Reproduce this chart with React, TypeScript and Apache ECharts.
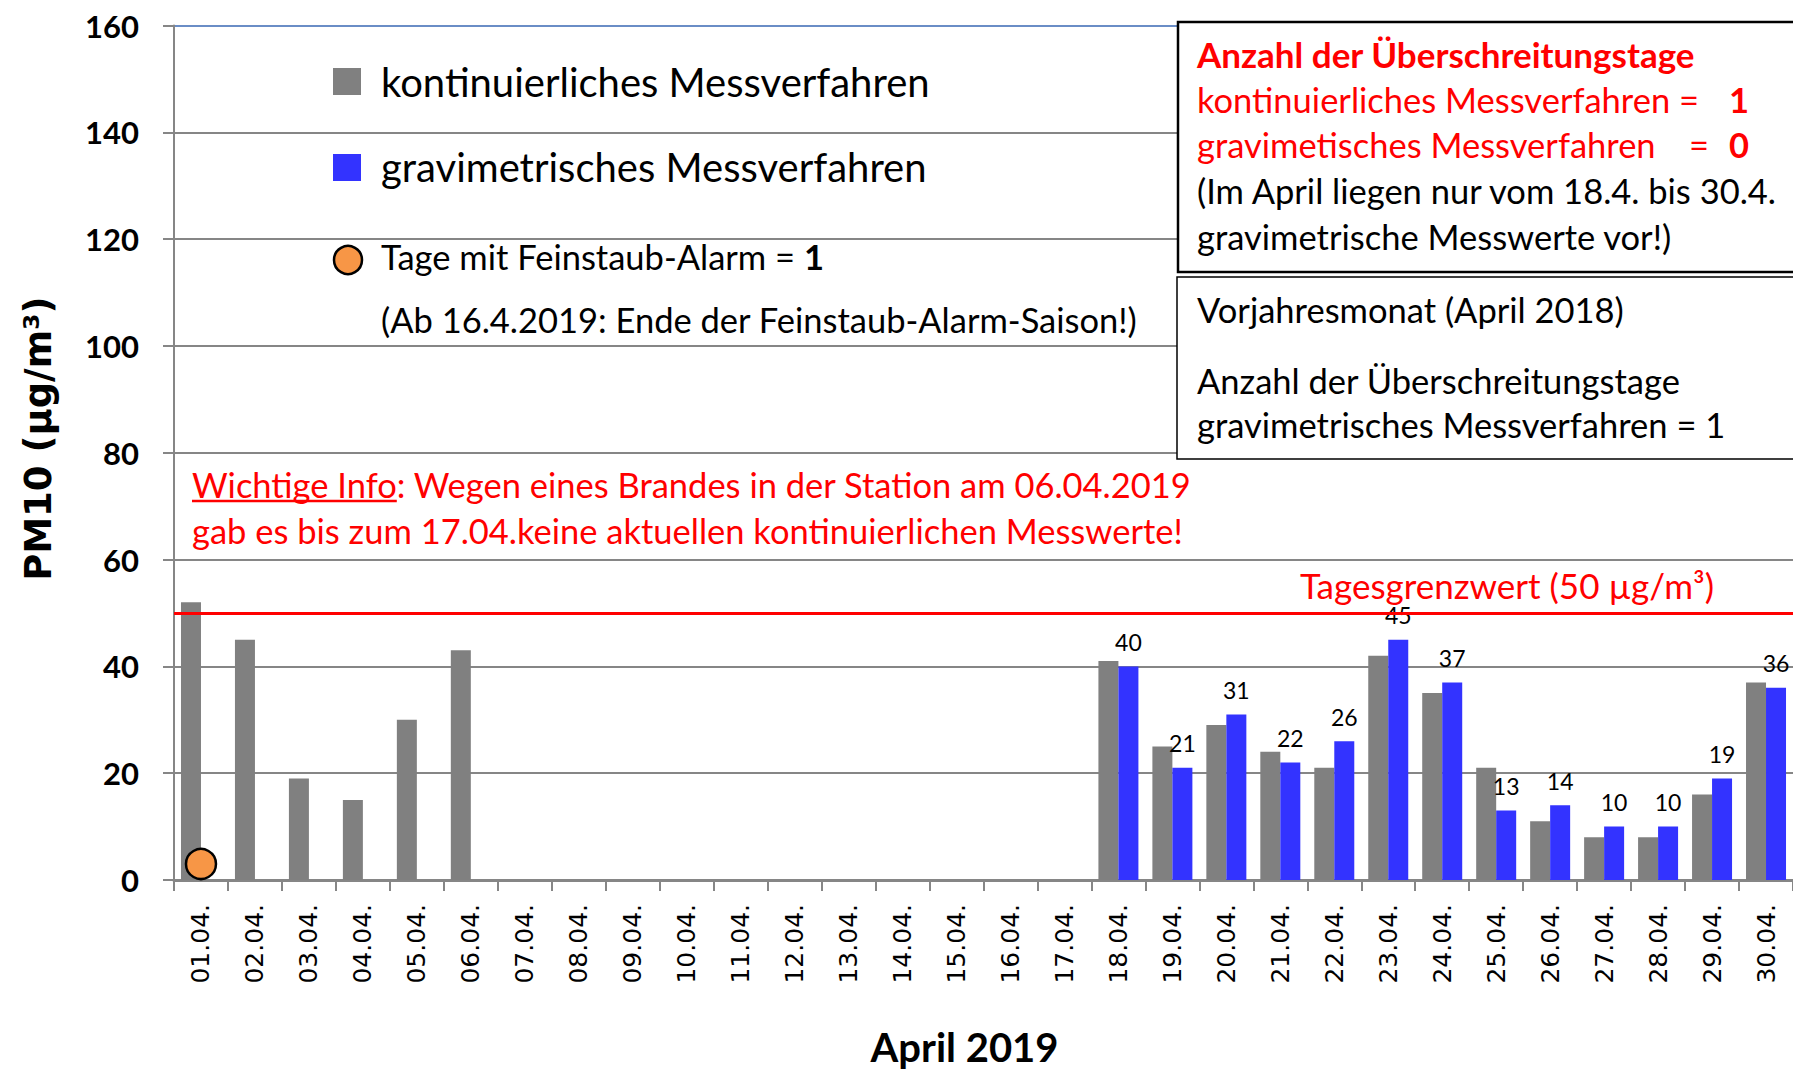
import React, { useEffect, useRef } from 'react';
import * as echarts from 'echarts';

// ---------- data ----------
const days: string[] = [
  '01.04.', '02.04.', '03.04.', '04.04.', '05.04.', '06.04.', '07.04.', '08.04.', '09.04.', '10.04.',
  '11.04.', '12.04.', '13.04.', '14.04.', '15.04.', '16.04.', '17.04.', '18.04.', '19.04.', '20.04.',
  '21.04.', '22.04.', '23.04.', '24.04.', '25.04.', '26.04.', '27.04.', '28.04.', '29.04.', '30.04.',
];
const kontinuierlich: (number | null)[] = [
  52, 45, 19, 15, 30, 43, null, null, null, null,
  null, null, null, null, null, null, null, 41, 25, 29,
  24, 21, 42, 35, 21, 11, 8, 8, 16, 37,
];
const gravimetrisch: (number | null)[] = [
  null, null, null, null, null, null, null, null, null, null,
  null, null, null, null, null, null, null, 40, 21, 31,
  22, 26, 45, 37, 13, 14, 10, 10, 19, 36,
];
const feinstaubAlarm: (number | null)[] = [
  3, null, null, null, null, null, null, null, null, null,
  null, null, null, null, null, null, null, null, null, null,
  null, null, null, null, null, null, null, null, null, null,
];
const yMin = 0;
const yMax = 160;
const yInterval = 20;
const tagesgrenzwert = 50;
const seriesNames = ['kontinuierliches Messverfahren', 'gravimetrisches Messverfahren', 'Tage mit Feinstaub-Alarm'];

export default function App() {
  const ref = useRef<HTMLDivElement>(null);

  useEffect(() => {
    const el = ref.current!;
    const chart = echarts.init(el, null, { renderer: 'svg' });

    const ctx = document.createElement('canvas').getContext('2d')!;
    const measure = (text: string, size: number, weight = 'normal', family = 'Lato') => {
      ctx.font = `${weight} ${size}px ${family}`;
      return ctx.measureText(text).width;
    };
    const fit = (text: string, target: number, weight = 'normal', family = 'Lato') =>
      Math.round((100 * target) / measure(text, 100, weight, family) * 2) / 2;

    const RED = '#FF0000';
    const GRID = '#868686';

    const T = (x: number, y: number, text: string, size: number, extra: any = {}) => ({
      type: 'text',
      x,
      y,
      silent: true,
      z: 100,
      style: {
        text,
        fontFamily: 'Lato',
        fontSize: size,
        fill: '#000',
        align: 'left',
        verticalAlign: 'middle',
        ...extra,
      },
    });

    // font sizes fitted to the widths seen in the reference
    const fLegend = fit(seriesNames[0], 550);
    const fBody = fit('Wichtige Info: Wegen eines Brandes in der Station am 06.04.2019', 997);
    const fBox = fit('(Im April liegen nur vom 18.4. bis 30.4.', 585);
    const fBoxBold = fit('Anzahl der Überschreitungstage', 497, 'bold');
    const fGrenz = fit('Tagesgrenzwert (50 µg/m³)', 414);
    const fXTitle = fit('April 2019', 189, 'bold');
    const wInfo = measure('Wichtige Info', fBody);

    const splitColors = ['#868686', '#868686', '#868686', '#868686', '#868686', '#868686', '#868686', '#868686', '#6A8DC6'];

    const graphic: any[] = [
      // legend
      { type: 'rect', z: 100, silent: true, shape: { x: 333, y: 68, width: 28, height: 27 }, style: { fill: '#808080' } },
      T(381, 82, seriesNames[0], fLegend),
      { type: 'rect', z: 100, silent: true, shape: { x: 333, y: 154, width: 28, height: 27 }, style: { fill: '#3333FF' } },
      T(381, 167, seriesNames[1], fLegend),
      { type: 'circle', z: 100, silent: true, shape: { cx: 348, cy: 260, r: 14 }, style: { fill: '#F79646', stroke: '#000', lineWidth: 2.5 } },
      T(381, 256, '{a|Tage mit Feinstaub-Alarm = }{b|1}', fBox, {
        rich: {
          a: { fontFamily: 'Lato', fontSize: fBox, fill: '#000' },
          b: { fontFamily: 'Lato', fontSize: fBox, fontWeight: 'bold', fill: '#000' },
        },
      }),
      T(381, 319, '(Ab 16.4.2019: Ende der Feinstaub-Alarm-Saison!)', fBox),

      // important info
      T(192, 484, 'Wichtige Info: Wegen eines Brandes in der Station am 06.04.2019', fBody, { fill: RED }),
      T(192, 530, 'gab es bis zum 17.04.keine aktuellen kontinuierlichen Messwerte!', fBody, { fill: RED }),
      { type: 'line', z: 100, silent: true, shape: { x1: 192, y1: 501, x2: 192 + wInfo, y2: 501 }, style: { stroke: RED, lineWidth: 2.5 } },

      // box 1
      { type: 'rect', z: 90, silent: true, shape: { x: 1178, y: 22, width: 700, height: 250 }, style: { fill: '#fff', stroke: '#000', lineWidth: 2.5 } },
      T(1197, 54, 'Anzahl der Überschreitungstage', fBoxBold, { fill: RED, fontWeight: 'bold' }),
      T(1197, 99, 'kontinuierliches Messverfahren =', fBox, { fill: RED }),
      T(1729, 99, '1', fBox, { fill: RED, fontWeight: 'bold' }),
      T(1197, 144, 'gravimetisches Messverfahren', fBox, { fill: RED }),
      T(1689, 144, '=', fBox, { fill: RED }),
      T(1729, 144, '0', fBox, { fill: RED, fontWeight: 'bold' }),
      T(1197, 190, '(Im April liegen nur vom 18.4. bis 30.4.', fBox),
      T(1197, 236, 'gravimetrische Messwerte vor!)', fBox),

      // box 2
      { type: 'rect', z: 90, silent: true, shape: { x: 1177, y: 277, width: 700, height: 182 }, style: { fill: '#fff', stroke: '#000', lineWidth: 1.5 } },
      T(1197, 309, 'Vorjahresmonat (April 2018)', fBox),
      T(1197, 380, 'Anzahl der Überschreitungstage', fBox),
      T(1197, 424, 'gravimetrisches Messverfahren = 1', fBox),
    ];

    chart.setOption({
      animation: false,
      backgroundColor: '#fff',
      grid: { left: 174, top: 25.5, width: 1623, height: 857, containLabel: false },
      legend: { show: false },
      xAxis: {
        type: 'category',
        data: days,
        axisLine: { lineStyle: { color: GRID, width: 3 } },
        axisTick: { show: true, length: 11, lineStyle: { color: GRID, width: 2 } },
        axisLabel: {
          interval: 0,
          rotate: 90,
          margin: 24,
          fontFamily: 'DejaVu Sans',
          fontSize: 25,
          color: '#000',
        },
        name: 'April 2019',
        nameLocation: 'middle',
        nameGap: 147,
        nameTextStyle: {
          fontFamily: 'Lato',
          fontWeight: 'bold',
          fontSize: fXTitle,
          color: '#000',
          padding: [0, 38, 0, 0],
        },
      },
      yAxis: {
        type: 'value',
        min: yMin,
        max: yMax,
        interval: yInterval,
        axisLine: { show: true, lineStyle: { color: GRID, width: 2 } },
        axisTick: { show: true, length: 11, lineStyle: { color: GRID, width: 2 } },
        axisLabel: { fontFamily: 'Lato', fontWeight: 'bold', fontSize: 31, color: '#000', margin: 35 },
        splitLine: { show: true, lineStyle: { color: splitColors, width: 2 } },
        name: 'PM10 (µg/m³)',
        nameLocation: 'middle',
        nameRotate: 90,
        nameGap: 117,
        nameTextStyle: {
          fontFamily: 'DejaVu Sans',
          fontWeight: 'bold',
          fontSize: 37,
          color: '#000',
          padding: [0, 0, 0, 28],
        },
      },
      series: [
        {
          name: seriesNames[0],
          type: 'bar',
          data: kontinuierlich,
          barWidth: 20,
          barGap: '0%',
          itemStyle: { color: '#808080' },
          markLine: {
            silent: true,
            symbol: 'none',
            data: [{ yAxis: tagesgrenzwert }],
            lineStyle: { color: RED, width: 3, type: 'solid' },
            label: {
              show: true,
              position: 'insideEndTop',
              formatter: 'Tagesgrenzwert (50 µg/m³)',
              color: RED,
              fontFamily: 'Lato',
              fontSize: fGrenz,
              distance: 10,
              padding: [0, 69, 0, 0],
            },
          },
        },
        {
          name: seriesNames[1],
          type: 'bar',
          data: gravimetrisch,
          barWidth: 20,
          barGap: '0%',
          itemStyle: { color: '#3333FF' },
          label: {
            show: true,
            position: 'top',
            distance: 13,
            fontFamily: 'Lato',
            fontSize: 23,
            color: '#000',
          },
        },
        {
          name: seriesNames[2],
          type: 'scatter',
          data: feinstaubAlarm,
          symbol: 'circle',
          symbolSize: 30,
          z: 5,
          itemStyle: { color: '#F79646', borderColor: '#000', borderWidth: 2.5, opacity: 1 },
        },
      ],
      graphic,
    });

    return () => {
      chart.dispose();
    };
  }, []);

  return (
    <div
      ref={ref}
      style={{ position: 'fixed', left: 0, top: 0, width: 1793, height: 1072, background: '#fff' }}
    />
  );
}
